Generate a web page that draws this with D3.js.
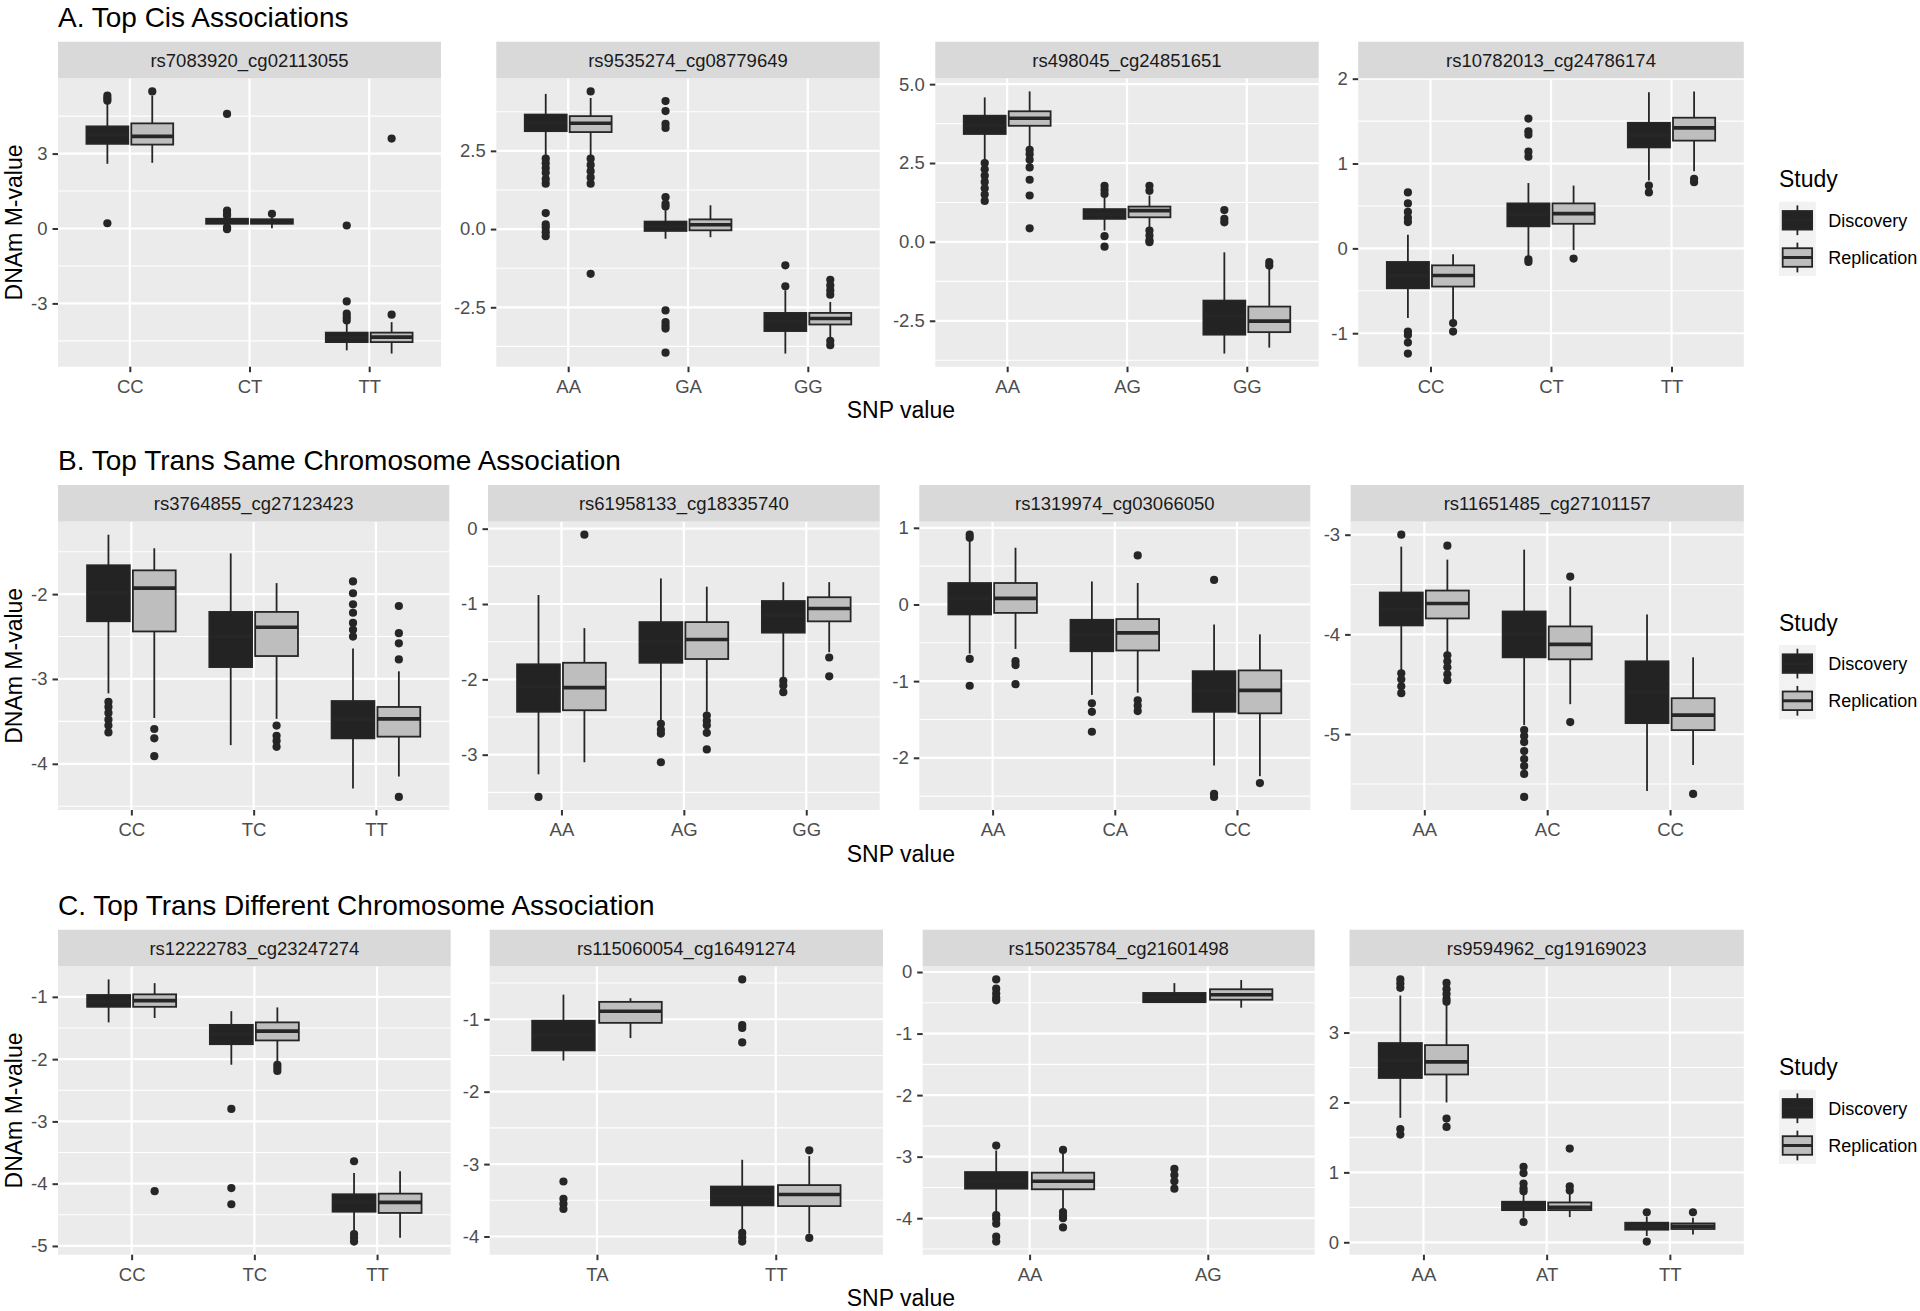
<!DOCTYPE html>
<html>
<head>
<meta charset="utf-8">
<script src="https://cdn.jsdelivr.net/npm/d3@7"></script>
<style>
  body { margin: 0; background: #fff; }
  svg { display: block; }
</style>
</head>
<body>
<div id="chart"></div>
<script>
// ---- datos ----
const rowTitles = [
  "A. Top Cis Associations",
  "B. Top Trans Same Chromosome Association",
  "C. Top Trans Different Chromosome Association"
];
const studies = ["Discovery", "Replication"];

const panelNames = [
  "rs7083920_cg02113055", "rs9535274_cg08779649", "rs498045_cg24851651", "rs10782013_cg24786174",
  "rs3764855_cg27123423", "rs61958133_cg18335740", "rs1319974_cg03066050", "rs11651485_cg27101157",
  "rs12222783_cg23247274", "rs115060054_cg16491274", "rs150235784_cg21601498", "rs9594962_cg19169023"
];

const genotypes = [
  ["CC", "CT", "TT"], ["AA", "GA", "GG"], ["AA", "AG", "GG"], ["CC", "CT", "TT"],
  ["CC", "TC", "TT"], ["AA", "AG", "GG"], ["AA", "CA", "CC"], ["AA", "AC", "CC"],
  ["CC", "TC", "TT"], ["TA", "TT"], ["AA", "AG"], ["AA", "AT", "TT"]
];

const yTicks = [
  [-3, 0, 3], [-2.5, 0, 2.5], [-2.5, 0, 2.5, 5], [-1, 0, 1, 2],
  [-4, -3, -2], [-3, -2, -1, 0], [-2, -1, 0, 1], [-5, -4, -3],
  [-5, -4, -3, -2, -1], [-4, -3, -2, -1], [-4, -3, -2, -1, 0], [0, 1, 2, 3]
];
const yTickLabels = [
  ["-3", "0", "3"], ["-2.5", "0.0", "2.5"], ["-2.5", "0.0", "2.5", "5.0"], ["-1", "0", "1", "2"],
  ["-4", "-3", "-2"], ["-3", "-2", "-1", "0"], ["-2", "-1", "0", "1"], ["-5", "-4", "-3"],
  ["-5", "-4", "-3", "-2", "-1"], ["-4", "-3", "-2", "-1"], ["-4", "-3", "-2", "-1", "0"], ["0", "1", "2", "3"]
];

// [bigote inferior, Q1, mediana, Q3, bigote superior] por panel y genotipo
const discoveryStats = [
  [[2.59, 3.39, 3.75, 4.09, 4.99], [0.12, 0.19, 0.28, 0.39, 0.45], [-4.88, -4.55, -4.37, -4.17, -3.75]],
  [[2.35, 3.13, 3.40, 3.66, 4.32], [-0.31, -0.06, 0.08, 0.24, 0.60], [-3.98, -3.26, -2.95, -2.68, -1.96]],
  [[2.57, 3.42, 3.70, 4.00, 4.58], [0.36, 0.73, 0.88, 1.04, 1.41], [-3.54, -2.94, -2.35, -1.86, -0.33]],
  [[-0.82, -0.47, -0.32, -0.16, 0.16], [-0.11, 0.26, 0.40, 0.53, 0.77], [0.80, 1.19, 1.33, 1.48, 1.84]],
  [[-3.17, -2.32, -1.98, -1.66, -1.30], [-3.78, -2.86, -2.50, -2.21, -1.52], [-4.29, -3.70, -3.48, -3.26, -2.64]],
  [[-3.26, -2.43, -2.10, -1.80, -0.88], [-2.54, -1.78, -1.50, -1.24, -0.66], [-1.97, -1.38, -1.15, -0.96, -0.71]],
  [[-0.64, -0.13, 0.08, 0.28, 0.85], [-1.18, -0.61, -0.40, -0.20, 0.30], [-2.10, -1.40, -1.13, -0.87, -0.26]],
  [[-4.37, -3.91, -3.75, -3.58, -3.12], [-4.91, -4.23, -4.00, -3.77, -3.15], [-5.57, -4.89, -4.58, -4.27, -3.80]],
  [[-1.41, -1.16, -1.07, -0.97, -0.72], [-2.09, -1.76, -1.60, -1.45, -1.23], [-4.79, -4.45, -4.30, -4.17, -3.83]],
  [[-1.57, -1.43, -1.22, -1.02, -0.66], [-3.92, -3.57, -3.44, -3.31, -2.94]],
  [[-3.90, -3.52, -3.40, -3.25, -2.90], [-0.50, -0.49, -0.42, -0.34, -0.18]],
  [[1.78, 2.35, 2.60, 2.85, 3.53], [0.35, 0.46, 0.52, 0.58, 0.70], [0.09, 0.18, 0.23, 0.28, 0.37]]
];
const replicationStats = [
  [[2.63, 3.36, 3.69, 4.21, 5.32], [0.01, 0.19, 0.28, 0.37, 0.45], [-5.01, -4.55, -4.35, -4.17, -3.75]],
  [[2.35, 3.10, 3.38, 3.61, 4.19], [-0.26, -0.04, 0.14, 0.31, 0.76], [-3.45, -3.05, -2.86, -2.68, -2.33]],
  [[3.00, 3.68, 3.92, 4.14, 4.77], [0.41, 0.78, 0.99, 1.12, 1.47], [-3.35, -2.86, -2.51, -2.05, -0.80]],
  [[-0.84, -0.45, -0.32, -0.20, -0.07], [-0.02, 0.29, 0.41, 0.53, 0.74], [0.91, 1.27, 1.42, 1.54, 1.85]],
  [[-3.46, -2.44, -1.93, -1.72, -1.46], [-3.47, -2.73, -2.39, -2.21, -1.87], [-4.15, -3.68, -3.47, -3.33, -2.91]],
  [[-3.10, -2.41, -2.11, -1.78, -1.32], [-2.43, -1.73, -1.47, -1.24, -0.77], [-1.64, -1.23, -1.06, -0.91, -0.71]],
  [[-0.58, -0.11, 0.08, 0.28, 0.74], [-1.15, -0.60, -0.37, -0.19, 0.28], [-2.24, -1.42, -1.12, -0.86, -0.39]],
  [[-4.19, -3.84, -3.69, -3.56, -3.25], [-4.70, -4.25, -4.10, -3.92, -3.52], [-5.31, -4.96, -4.81, -4.64, -4.23]],
  [[-1.34, -1.16, -1.06, -0.96, -0.78], [-2.04, -1.70, -1.55, -1.41, -1.17], [-4.87, -4.47, -4.30, -4.16, -3.80]],
  [[-1.26, -1.05, -0.89, -0.76, -0.71], [-3.96, -3.58, -3.42, -3.29, -2.89]],
  [[-3.88, -3.53, -3.40, -3.26, -2.93], [-0.58, -0.45, -0.37, -0.28, -0.13]],
  [[2.00, 2.40, 2.58, 2.82, 3.40], [0.36, 0.46, 0.50, 0.57, 0.70], [0.11, 0.19, 0.23, 0.27, 0.35]]
];

const discoveryOutliers = [
  [[5.32, 5.21, 5.12, 0.21], [4.59, 0.72, 0.59, 0.52, 0.05, -0.03], [0.12, -2.92, -3.41, -3.55, -3.68]],
  [[2.25, 2.1, 1.95, 1.8, 1.6, 1.45, 0.51, 0.15, 0.05, -0.1, -0.23],
   [4.09, 3.77, 3.36, 3.23, 1.02, 0.81, 0.72, -2.6, -2.97, -3.08, -3.18, -3.95], [-1.16, -1.83]],
  [[2.5, 2.3, 2.1, 1.9, 1.7, 1.5, 1.3], [1.78, 1.65, 1.52, 0.18, -0.15], [1.01, 0.73, 0.62]],
  [[0.66, 0.53, 0.43, 0.36, 0.31, -0.98, -1.02, -1.11, -1.24], [1.53, 1.38, 1.34, 1.14, 1.08, -0.13, -0.16], [0.74, 0.66]],
  [[-3.27, -3.33, -3.40, -3.48, -3.55, -3.63], [], [-1.85, -1.99, -2.12, -2.22, -2.34, -2.42, -2.50]],
  [[-3.56], [-2.59, -2.67, -2.72, -3.10], [-2.02, -2.08, -2.17]],
  [[0.91, 0.87, -0.71, -1.06], [-1.29, -1.40, -1.66], [0.32, -2.47, -2.51]],
  [[-3.00, -4.39, -4.45, -4.52, -4.59], [-4.96, -5.02, -5.08, -5.17, -5.25, -5.32, -5.40, -5.63], []],
  [[], [-2.80, -4.07, -4.33], [-3.64, -4.81, -4.87, -4.93]],
  [[-3.24, -3.48, -3.55, -3.62], [-0.45, -1.08, -1.12, -1.32, -3.95, -4.01, -4.07]],
  [[-2.82, -3.95, -4.01, -4.09, -4.30, -4.38, -0.12, -0.27, -0.35, -0.42, -0.46], [-3.20, -3.30, -3.40, -3.52]],
  [[3.76, 3.70, 3.64, 1.62, 1.54], [1.08, 0.99, 0.84, 0.77, 0.73, 0.29], [0.43, 0.01]]
];
const replicationOutliers = [
  [[5.49], [0.59], [3.6, -3.45]],
  [[4.40, 2.25, 2.05, 1.85, 1.65, 1.45, -1.43], [], [-1.62, -1.80, -1.96, -2.10, -3.57, -3.71]],
  [[2.92, 2.78, 2.6, 2.36, 1.97, 1.47, 0.43], [1.78, 1.62, 0.36, 0.2, 0.05, -0.01], [-0.64, -0.75]],
  [[-0.88, -0.98], [-0.12], [0.82, 0.78]],
  [[-3.59, -3.70, -3.91], [-3.55, -3.67, -3.73, -3.80], [-2.14, -2.46, -2.58, -2.77, -4.39]],
  [[-0.08], [-2.48, -2.55, -2.61, -2.71, -2.93], [-1.71, -1.96]],
  [[-0.74, -0.79, -1.04], [0.64, -1.25, -1.32, -1.39], [-2.33]],
  [[-3.11, -4.21, -4.27, -4.33, -4.40, -4.46], [-3.42, -4.88], [-5.60]],
  [[-4.12], [-2.09, -2.14, -2.19], []],
  [[], [-2.81, -4.02]],
  [[-2.89, -3.90, -3.96, -4.00, -4.15], []],
  [[3.71, 3.62, 3.55, 3.48, 3.44, 1.77, 1.65], [1.34, 0.80, 0.74], [0.43]]
];

// ---- maquetación ----
var width = 1920;
var height = 1311;
var stripH = 36.6;     // alto de la franja gris con el nombre
var panelSpan = 325;   // desde arriba de la franja hasta abajo del panel
var fontFamily = '"Liberation Sans", Arial, Helvetica, sans-serif';

// posición de cada fila (arriba de la franja) y límites x de los cuatro paneles
var rowLayout = [
  { stripTop: 41.7, panels: [[58, 441], [496.3, 879.7], [935.3, 1318.7], [1358.2, 1743.8]] },
  { stripTop: 485, panels: [[58, 449.3], [488, 879.7], [919.3, 1310.3], [1350.6, 1743.8]] },
  { stripTop: 929.7, panels: [[58, 450.7], [489.7, 883], [922.7, 1314.7], [1349.5, 1743.8]] }
];

var fills = ['#232323', '#BEBEBE'];
var lineColor = '#262626';

var svg = d3.select('#chart')
  .append('svg')
  .attr('width', width)
  .attr('height', height)
  .style('font-family', fontFamily);

function drawPanel(p) {
  var row = Math.floor(p / 4), col = p % 4;
  var x0 = rowLayout[row].panels[col][0], x1 = rowLayout[row].panels[col][1];
  var stripTop = rowLayout[row].stripTop;
  var top = stripTop + stripH, bottom = stripTop + panelSpan;

  // dominio y como ggplot: extremos de datos + 5%
  var all = [];
  [discoveryStats, replicationStats].forEach(s => s[p].forEach(b => all.push(b[0], b[4])));
  [discoveryOutliers, replicationOutliers].forEach(o => o[p].forEach(l => all.push(...l)));
  var ext = d3.extent(all);
  var pad = (ext[1] - ext[0]) * 0.05;

  var y = d3.scaleLinear().domain([ext[0] - pad, ext[1] + pad]).range([bottom, top]);
  var x = d3.scalePoint().domain(genotypes[p]).range([x0, x1]).padding(0.6);
  var step = x.step();

  var g = svg.append('g');

  g.append('rect')
    .attr('x', x0).attr('y', top)
    .attr('width', x1 - x0).attr('height', bottom - top)
    .attr('fill', '#EBEBEB');

  // rejilla menor (puntos medios entre marcas)
  var ticks = yTicks[p];
  var st = ticks[1] - ticks[0];
  var minors = [ticks[0] - st / 2].concat(ticks.map(t => t + st / 2))
    .filter(v => v >= y.domain()[0] && v <= y.domain()[1]);

  g.append('g').selectAll('line')
    .data(minors)
    .enter()
    .append('line')
    .attr('x1', x0).attr('x2', x1)
    .attr('y1', d => y(d)).attr('y2', d => y(d))
    .attr('stroke', '#fff').attr('stroke-width', 1.1);

  g.append('g').selectAll('line')
    .data(ticks)
    .enter()
    .append('line')
    .attr('x1', x0).attr('x2', x1)
    .attr('y1', d => y(d)).attr('y2', d => y(d))
    .attr('stroke', '#fff').attr('stroke-width', 2.2);

  g.append('g').selectAll('line')
    .data(genotypes[p])
    .enter()
    .append('line')
    .attr('x1', d => x(d)).attr('x2', d => x(d))
    .attr('y1', top).attr('y2', bottom)
    .attr('stroke', '#fff').attr('stroke-width', 2.2);

  // franja con el nombre del par
  g.append('rect')
    .attr('x', x0).attr('y', stripTop)
    .attr('width', x1 - x0).attr('height', stripH)
    .attr('fill', '#D9D9D9');
  g.append('text')
    .attr('x', (x0 + x1) / 2).attr('y', stripTop + stripH / 2 + 6.5)
    .attr('text-anchor', 'middle')
    .attr('font-size', 18.5)
    .attr('fill', '#1A1A1A')
    .text(panelNames[p]);

  // cajas
  var boxW = 0.35 * step;
  [discoveryStats, replicationStats].forEach(function (stats, s) {
    var off = (s === 0 ? -1 : 1) * 0.1875 * step;
    var outl = (s === 0 ? discoveryOutliers : replicationOutliers)[p];
    var bg = g.append('g');
    var items = genotypes[p].map((c, i) => ({ cat: c, b: stats[p][i], out: outl[i] }));

    var box = bg.selectAll('g.box')
      .data(items)
      .enter()
      .append('g')
      .attr('class', 'box');

    box.append('line')
      .attr('x1', d => x(d.cat) + off).attr('x2', d => x(d.cat) + off)
      .attr('y1', d => y(d.b[4])).attr('y2', d => y(d.b[3]))
      .attr('stroke', lineColor).attr('stroke-width', 1.8);
    box.append('line')
      .attr('x1', d => x(d.cat) + off).attr('x2', d => x(d.cat) + off)
      .attr('y1', d => y(d.b[1])).attr('y2', d => y(d.b[0]))
      .attr('stroke', lineColor).attr('stroke-width', 1.8);
    box.append('rect')
      .attr('x', d => x(d.cat) + off - boxW / 2)
      .attr('width', boxW)
      .attr('y', d => y(d.b[3]))
      .attr('height', d => y(d.b[1]) - y(d.b[3]))
      .attr('fill', fills[s])
      .attr('stroke', lineColor).attr('stroke-width', 1.8);
    box.append('line')
      .attr('x1', d => x(d.cat) + off - boxW / 2).attr('x2', d => x(d.cat) + off + boxW / 2)
      .attr('y1', d => y(d.b[2])).attr('y2', d => y(d.b[2]))
      .attr('stroke', lineColor).attr('stroke-width', 3.6);

    box.selectAll('circle')
      .data(d => d.out.map(v => ({ cat: d.cat, v: v })))
      .enter()
      .append('circle')
      .attr('cx', d => x(d.cat) + off)
      .attr('cy', d => y(d.v))
      .attr('r', 4.1)
      .attr('fill', lineColor);
  });

  // ejes
  var yAxis = d3.axisLeft(y)
    .tickValues(ticks)
    .tickFormat((d, i) => yTickLabels[p][i])
    .tickSize(5.5).tickPadding(5);
  var ya = g.append('g').attr('transform', 'translate(' + x0 + ',0)').call(yAxis);

  var xAxis = d3.axisBottom(x).tickSize(5.5).tickPadding(7.7);
  var xa = g.append('g').attr('transform', 'translate(0,' + bottom + ')').call(xAxis);

  [ya, xa].forEach(function (a) {
    a.select('.domain').remove();
    a.selectAll('line').attr('stroke', '#333').attr('stroke-width', 2);
    a.selectAll('text')
      .attr('fill', '#4D4D4D')
      .attr('font-size', 18.5)
      .attr('font-family', fontFamily);
  });
}

function drawRowDecor(row) {
  var L = rowLayout[row];
  var top = L.stripTop + stripH, bottom = L.stripTop + panelSpan;
  var panelsLeft = L.panels[0][0], panelsRight = L.panels[3][1];

  svg.append('text')
    .attr('x', 58).attr('y', L.stripTop - 15)
    .attr('font-size', 28).attr('fill', '#000')
    .text(rowTitles[row]);

  svg.append('text')
    .attr('transform', 'translate(21.5,' + ((top + bottom) / 2) + ') rotate(-90)')
    .attr('text-anchor', 'middle')
    .attr('font-size', 23).attr('fill', '#000')
    .text('DNAm M-value');

  svg.append('text')
    .attr('x', (panelsLeft + panelsRight) / 2).attr('y', bottom + 51.5)
    .attr('text-anchor', 'middle')
    .attr('font-size', 23).attr('fill', '#000')
    .text('SNP value');

  // leyenda
  var keyX = 1779, keyTop = L.stripTop + 160, keyW = 36.8, keyH = 37.2;
  var lg = svg.append('g');
  lg.append('text')
    .attr('x', keyX).attr('y', keyTop - 14.5)
    .attr('font-size', 23).attr('fill', '#000')
    .text('Study');

  var key = lg.selectAll('g.key')
    .data(studies)
    .enter()
    .append('g')
    .attr('class', 'key')
    .attr('transform', (d, i) => 'translate(' + keyX + ',' + (keyTop + i * keyH) + ')');

  key.append('rect')
    .attr('width', keyW).attr('height', keyH)
    .attr('fill', '#F2F2F2');
  key.append('line')
    .attr('x1', keyW / 2).attr('x2', keyW / 2)
    .attr('y1', keyH * 0.1).attr('y2', keyH * 0.9)
    .attr('stroke', lineColor).attr('stroke-width', 1.8);
  key.append('rect')
    .attr('x', keyW * 0.1).attr('width', keyW * 0.8)
    .attr('y', keyH * 0.25).attr('height', keyH * 0.5)
    .attr('fill', (d, i) => fills[i])
    .attr('stroke', lineColor).attr('stroke-width', 1.8);
  key.append('line')
    .attr('x1', keyW * 0.1).attr('x2', keyW * 0.9)
    .attr('y1', keyH / 2).attr('y2', keyH / 2)
    .attr('stroke', lineColor).attr('stroke-width', 3);
  key.append('text')
    .attr('x', keyW + 12.5).attr('y', keyH / 2 + 6.5)
    .attr('font-size', 18).attr('fill', '#000')
    .text(d => d);
}

for (var r = 0; r < 3; r++) drawRowDecor(r);
for (var p = 0; p < panelNames.length; p++) drawPanel(p);
</script>
</body>
</html>
